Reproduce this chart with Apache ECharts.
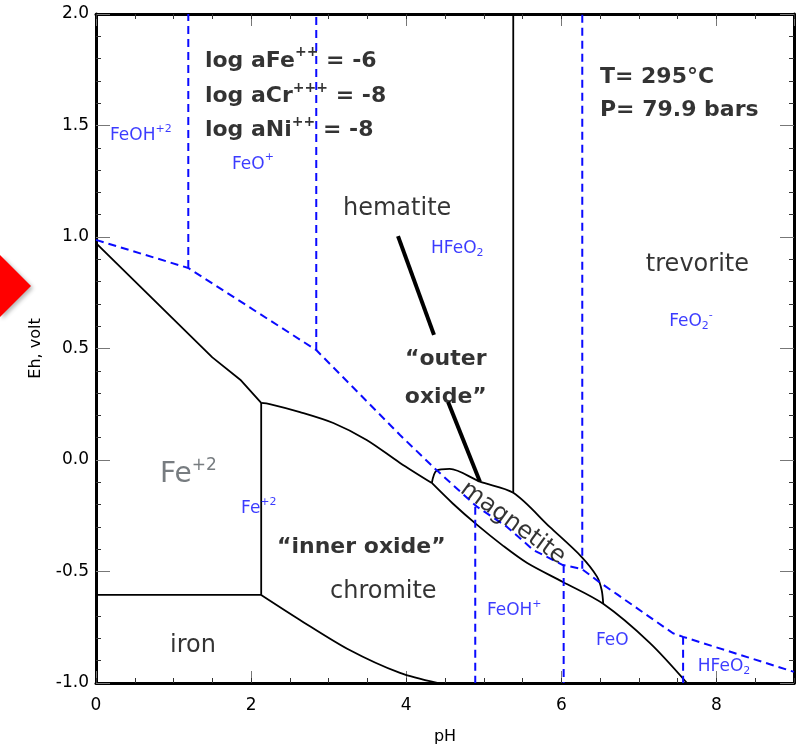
<!DOCTYPE html>
<html>
<head>
<meta charset="utf-8">
<title>Eh-pH diagram</title>
<script src="https://cdn.jsdelivr.net/npm/echarts/dist/echarts.min.js"></script>
<style>
html, body { margin: 0; padding: 0; background: #fff; }
#chart { width: 800px; height: 750px; }
</style>
</head>
<body>
<div id="chart"></div>
<script>
// axis ranges
var phRange = [0, 9];
var ehRange = [-1, 2];

// solid phase boundaries [pH, Eh]
var hematiteFe2 = [[0, 0.973], [1.5, 0.46], [1.86, 0.36], [2.13, 0.256]];
var fe2Chromite = [[2.13, 0.256], [2.13, -0.605]];
var fe2Iron = [[0, -0.605], [2.13, -0.605]];
var ironChromite = [[2.13, -0.605], [2.63, -0.717], [3.27, -0.852], [3.92, -0.955], [4.4, -1.0]];
var chromiteTop = [[2.13, 0.256], [2.24, 0.251], [2.63, 0.215], [3.06, 0.166], [3.49, 0.09], [3.92, -0.013], [4.33, -0.103]];
var magnetiteBottom = [[4.33, -0.103], [4.6, -0.195], [4.91, -0.29], [5.25, -0.385], [5.56, -0.462], [6.02, -0.547], [6.54, -0.645], [7.14, -0.82], [7.62, -1.0]];
var magnetiteTop = [[4.33, -0.103], [4.39, -0.048], [4.56, -0.04], [4.95, -0.097], [5.38, -0.147], [5.85, -0.3], [6.26, -0.434], [6.46, -0.523], [6.52, -0.583], [6.54, -0.645]];
var hematiteTrevorite = [[5.38, -0.147], [5.38, 2.0]];

// aqueous iron species boundaries (dashed)
var aqueousCurve = [[0, 0.987], [1.19, 0.861], [2.84, 0.493], [3.92, 0.112], [4.39, -0.045], [4.91, -0.209], [5.3, -0.3], [5.64, -0.404], [6.02, -0.471], [6.26, -0.488], [6.5, -0.55], [6.73, -0.605], [7.44, -0.777], [7.57, -0.793], [9, -0.95]];
var aqueousSplits = [
  [[1.19, 0.861], [1.19, 2.0]],
  [[2.84, 0.493], [2.84, 2.0]],
  [[6.27, -0.488], [6.27, 2.0]],
  [[4.89, -0.21], [4.89, -1.0]],
  [[6.03, -0.471], [6.03, -1.0]],
  [[7.57, -0.793], [7.57, -1.0]]
];

// pointer lines for the oxide callouts
var pointers = [
  [[3.894, 1.004], [4.358, 0.561]],
  [[4.54, 0.26], [4.95, -0.097]]
];

// labels: [pH, Eh, text, placement, rotation]
var labels = [
  [1.405, 1.79, '{bd|log aFe}{bdsup|++}{bd| = -6}'],
  [1.405, 1.632, '{bd|log aCr}{bdsup|+++}{bd| = -8}'],
  [1.405, 1.48, '{bd|log aNi}{bdsup|++}{bd| = -8}'],
  [6.498, 1.717, '{bd|T= 295°C}'],
  [6.498, 1.57, '{bd|P= 79.9 bars}'],
  [0.18, 1.453, '{bl|FeOH}{blsup|+2}'],
  [1.753, 1.327, '{bl|FeO}{blsup|+}'],
  [3.185, 1.126, '{big|hematite}'],
  [4.32, 0.946, '{bl|HFeO}{blsub|2}'],
  [7.09, 0.874, '{big|trevorite}'],
  [7.39, 0.619, '{bl|FeO}{blsub|2}{blsup|-}'],
  [4.51, 0.453, '{bd|\u201couter}', 'inside'],
  [4.51, 0.283, '{bd|oxide\u201d}', 'inside'],
  [0.825, -0.067, '{gr|Fe}{grsup|+2}'],
  [1.87, -0.22, '{bl|Fe}{blsup|+2}'],
  [2.334, -0.39, '{bd|\u201cinner oxide\u201d}'],
  [3.017, -0.592, '{big|chromite}'],
  [0.954, -0.834, '{big|iron}'],
  [5.04, -0.677, '{bl|FeOH}{blsup|+}'],
  [6.447, -0.812, '{bl|FeO}'],
  [7.76, -0.928, '{bl|HFeO}{blsub|2}'],
  [5.376, -0.283, '{big|magnetite}', 'inside', -36]
];

var FONT = 'DejaVu Sans';
var BLUE = '#0a0aff';
var GRAY = '#555b60';

var rich = {
  big: { fontSize: 24, color: '#000', fontFamily: FONT },
  bd: { fontSize: 22, fontWeight: 'bold', color: '#000', fontFamily: FONT },
  bdsup: { fontSize: 14, fontWeight: 'bold', color: '#000', fontFamily: FONT, padding: [0, 0, 16, 0] },
  bl: { fontSize: 17, color: BLUE, fontFamily: FONT },
  blsup: { fontSize: 11, color: BLUE, fontFamily: FONT, padding: [0, 0, 13, 0] },
  blsub: { fontSize: 11, color: BLUE, fontFamily: FONT, padding: [9, 0, 0, 0] },
  gr: { fontSize: 28, color: GRAY, fontFamily: FONT },
  grsup: { fontSize: 17, color: GRAY, fontFamily: FONT, padding: [0, 0, 18, 0] }
};

function boundary(pts, color, width, dashed, smooth) {
  return {
    type: 'line',
    data: pts,
    symbol: 'none',
    smooth: smooth || false,
    silent: true,
    lineStyle: { color: color, width: width, type: dashed ? [8, 5] : 'solid' },
    z: dashed ? 3 : 2
  };
}

var series = [];
[hematiteFe2, fe2Chromite, fe2Iron, hematiteTrevorite].forEach(function (p) {
  series.push(boundary(p, '#000', 1.8));
});
[ironChromite, chromiteTop, magnetiteBottom, magnetiteTop].forEach(function (p) {
  series.push(boundary(p, '#000', 1.8, false, 0.3));
});
series.push(boundary(aqueousCurve, BLUE, 2, true));
aqueousSplits.forEach(function (p) {
  series.push(boundary(p, BLUE, 2, true));
});
pointers.forEach(function (p) {
  series.push(boundary(p, '#000', 4));
});

series.push({
  type: 'scatter',
  symbolSize: 0,
  silent: true,
  z: 5,
  data: labels.map(function (l) {
    return {
      value: [l[0], l[1]],
      label: {
        show: true,
        position: l[3] || 'right',
        distance: 0,
        rotate: l[4] || 0,
        color: '#000',
        fontFamily: FONT,
        formatter: function () { return l[2]; },
        rich: rich
      }
    };
  })
});

function xAx(pos, interval, len, labels, line) {
  return {
    type: 'value', position: pos, min: phRange[0], max: phRange[1], interval: interval,
    name: pos === 'bottom' && labels ? 'pH' : '',
    nameLocation: 'middle', nameGap: 46,
    nameTextStyle: { fontSize: 16, color: '#000', fontFamily: FONT },
    axisLine: { show: line, onZero: false, lineStyle: { color: '#000', width: 3 } },
    axisTick: { show: true, inside: true, length: len, lineStyle: { color: len > 8 ? '#777' : '#333', width: 1 } },
    axisLabel: { show: labels, showMaxLabel: false, margin: 14, fontSize: 17, color: '#000', fontFamily: FONT },
    splitLine: { show: false }
  };
}

function yAx(pos, labels) {
  return {
    type: 'value', position: pos, min: ehRange[0], max: ehRange[1], interval: 0.5,
    name: labels ? 'Eh, volt' : '',
    nameLocation: 'middle', nameGap: 52,
    nameTextStyle: { fontSize: 16, color: '#000', fontFamily: FONT },
    axisLine: { show: true, onZero: false, lineStyle: { color: '#000', width: 3 } },
    axisTick: { show: true, inside: true, length: 14, lineStyle: { color: '#777', width: 1 } },
    minorTick: { show: true, splitNumber: 5, length: 5, lineStyle: { color: '#333', width: 1 } },
    axisLabel: { show: labels, margin: 7, fontSize: 17, color: '#000', fontFamily: FONT,
      formatter: function (v) { return v.toFixed(1); } },
    splitLine: { show: false }
  };
}

var chart = echarts.init(document.getElementById('chart'));
chart.setOption({
  animation: false,
  backgroundColor: '#fff',
  textStyle: { fontFamily: FONT },
  grid: { left: 96, right: 6, top: 14, bottom: 67 },
  xAxis: [
    xAx('bottom', 2, 12, true, true),
    xAx('bottom', 0.5, 5, false, false),
    xAx('top', 2, 12, false, true),
    xAx('top', 0.5, 5, false, false)
  ],
  yAxis: [yAx('left', true), yAx('right', false)],
  graphic: [{
    type: 'polygon',
    silent: true,
    shape: { points: [[0, 255], [31, 286], [0, 317]] },
    style: { fill: '#ff0000', shadowBlur: 4, shadowOffsetX: 2, shadowOffsetY: 2, shadowColor: 'rgba(0,0,0,0.3)' }
  }],
  series: series
});
</script>
</body>
</html>
